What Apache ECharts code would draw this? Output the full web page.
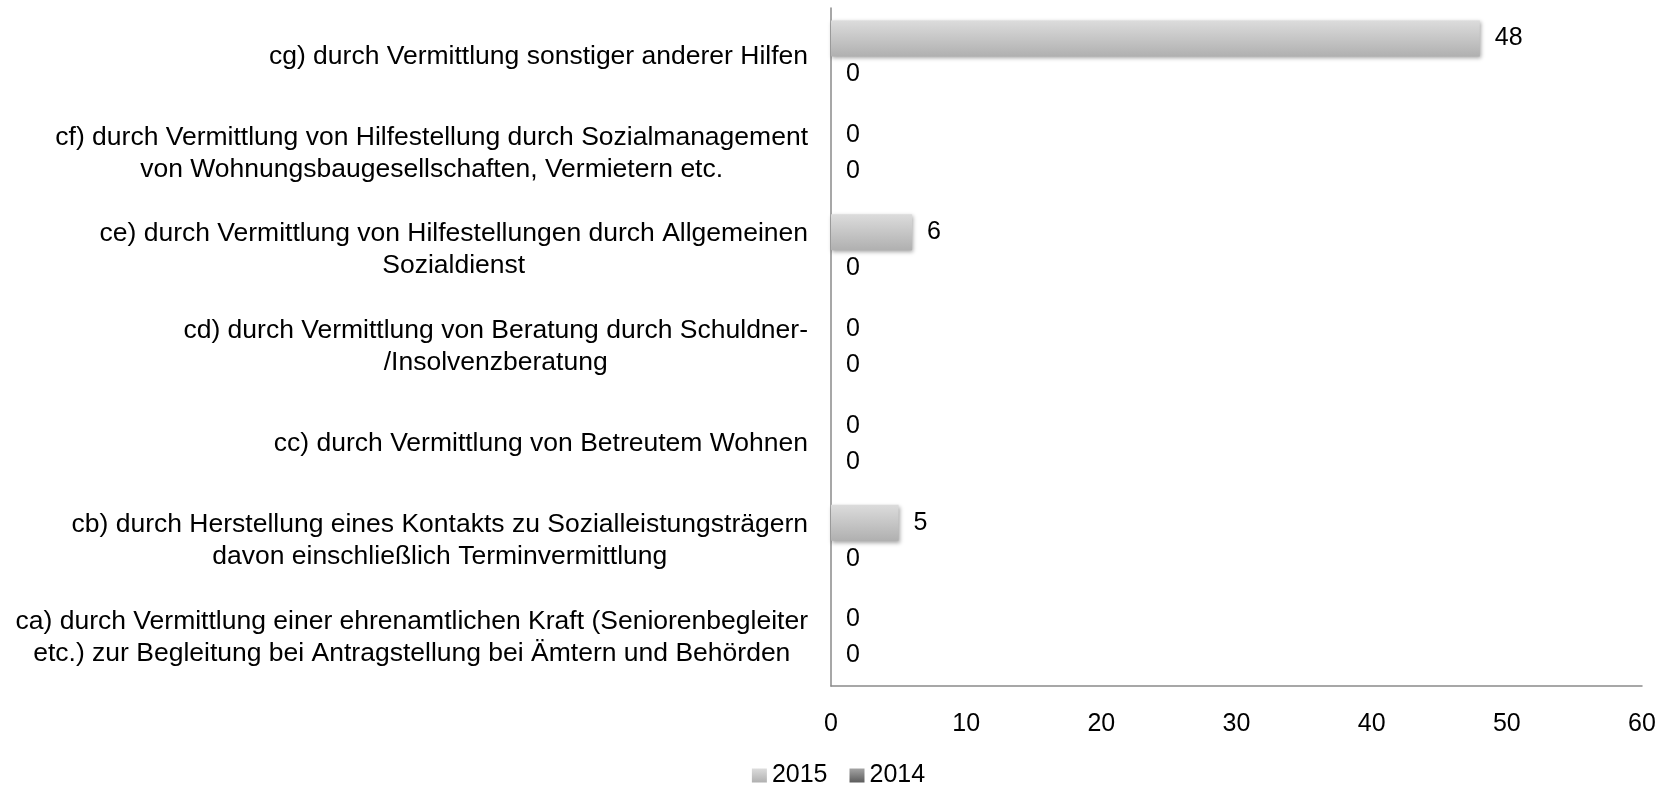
<!DOCTYPE html>
<html>
<head>
<meta charset="utf-8">
<script src="https://cdn.jsdelivr.net/npm/echarts@6/dist/echarts.min.js"></script>
<style>
  html, body { margin: 0; padding: 0; background: #fff; }
  #main { width: 1677px; height: 786px; }
</style>
</head>
<body>
<div id="main"></div>
<script>
var categories = [
    'ca) durch Vermittlung einer ehrenamtlichen Kraft (Seniorenbegleiter\netc.) zur Begleitung bei Antragstellung bei Ämtern und Behörden',
    'cb) durch Herstellung eines Kontakts zu Sozialleistungsträgern\ndavon einschließlich Terminvermittlung',
    'cc) durch Vermittlung von Betreutem Wohnen',
    'cd) durch Vermittlung von Beratung durch Schuldner-\n/Insolvenzberatung',
    'ce) durch Vermittlung von Hilfestellungen durch Allgemeinen\nSozialdienst',
    'cf) durch Vermittlung von Hilfestellung durch Sozialmanagement\nvon Wohnungsbaugesellschaften, Vermietern etc.',
    'cg) durch Vermittlung sonstiger anderer Hilfen'
];
var values2015 = [0, 5, 0, 0, 6, 0, 48];
var values2014 = [0, 0, 0, 0, 0, 0, 0];
var seriesNames = ['2015', '2014'];
var xTicks = { min: 0, max: 60, interval: 10 };

var FONT = '"Liberation Sans", Arial, sans-serif';

function grad(top, bottom) {
    return new echarts.graphic.LinearGradient(0, 0, 0, 1, [
        { offset: 0, color: top },
        { offset: 1, color: bottom }
    ]);
}

function makeSeries(name, data, colTop, colBottom) {
    return {
        name: name,
        type: 'bar',
        data: data,
        barWidth: 36,
        barGap: '0%',
        itemStyle: {
            color: grad(colTop, colBottom),
            shadowColor: 'rgba(0,0,0,0.35)',
            shadowBlur: 4,
            shadowOffsetX: 1,
            shadowOffsetY: 2
        },
        label: {
            show: true,
            position: 'right',
            distance: 15,
            color: '#000',
            fontFamily: FONT,
            fontSize: 25
        },
        emphasis: { disabled: true }
    };
}

var myChart = echarts.init(document.getElementById('main'));
var option = {
    animation: false,
    textStyle: { fontFamily: FONT },
    grid: { left: 831, right: 35, top: 8, bottom: 100, containLabel: false },
    legend: {
        data: seriesNames,
        left: 'center',
        top: 758,
        itemWidth: 15,
        itemHeight: 14,
        itemGap: 22,
        textStyle: { color: '#000', fontSize: 25, fontFamily: FONT },
        icon: 'rect'
    },
    xAxis: {
        type: 'value',
        min: xTicks.min,
        max: xTicks.max,
        interval: xTicks.interval,
        axisLine: { show: true, lineStyle: { color: '#8a8a8a', width: 1.5 } },
        axisTick: { show: false },
        splitLine: { show: false },
        axisLabel: { color: '#000', fontSize: 25, fontFamily: FONT, margin: 26 }
    },
    yAxis: {
        type: 'category',
        data: categories,
        axisLine: { show: true, lineStyle: { color: '#8a8a8a', width: 1.5 } },
        axisTick: { show: false },
        axisLabel: {
            color: '#000',
            fontSize: 26.5,
            fontFamily: FONT,
            margin: 23,
            lineHeight: 32,
            formatter: function (v) {
                return v.split('\n').map(function (l) { return '{c|' + l + '}'; }).join('\n');
            },
            rich: { c: { align: 'center', fontSize: 26.5, lineHeight: 32, color: '#000', fontFamily: FONT } }
        }
    },
    series: [
        makeSeries(seriesNames[0], values2015, '#dcdcdc', '#b0b0b0'),
        makeSeries(seriesNames[1], values2014, '#a4a4a4', '#5c5c5c')
    ]
};
myChart.setOption(option);
</script>
</body>
</html>
